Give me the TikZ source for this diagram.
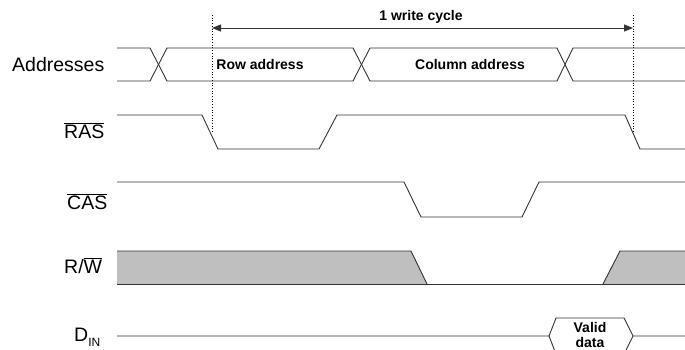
\documentclass[tikz,border=0pt]{standalone}
\usepackage{fontspec}
\setmainfont{Liberation Sans}
\usetikzlibrary{arrows.meta}
\begin{document}
\begin{tikzpicture}[x=1pt,y=-1pt,
  wave/.style={draw=black!80, line width=0.9pt, line join=miter},
  bus/.style={fill=black!25},
  sig/.style={font=\fontsize{19.5}{22}\selectfont, inner sep=0pt, anchor=base west},
  tag/.style={font=\fontsize{14}{15}\selectfont\bfseries, inner sep=0pt, anchor=base},
  marker/.style={draw=black, line width=0.7pt, dotted}]
\useasboundingbox (0,0) rectangle (685,349);
\clip (0,0) rectangle (685,349);
% signal labels
\node[sig] (laddr) at (12,71) {Addresses};
\node[sig] (lras) at (64,138) {$\overline{\mbox{RAS}}$};
\node[sig] (lcas) at (67,209) {$\overline{\mbox{CAS}}$};
\node[sig] (lrw) at (64,273) {R/$\overline{\mbox{W}}$};
\node[sig] (ldin) at (74,341) {D\raisebox{-5pt}{\fontsize{12}{12}\selectfont IN}};
% timing markers
\coordinate (m1t) at (212,15); \coordinate (m1b) at (212,133);
\coordinate (m2t) at (633,15); \coordinate (m2b) at (633,133);
\draw[marker] (m1t) -- (m1b);
\draw[marker] (m2t) -- (m2b);
\coordinate (a1) at (212,28); \coordinate (a2) at (633,28);
\draw[line width=0.9pt, draw=black!80, {Triangle[length=9pt,width=7pt]}-{Triangle[length=9pt,width=7pt]}] (a1) -- (a2);
\node[tag] (cyc) at (421,20) {1 write cycle};
% Addresses
\draw[wave] (117,48) -- (150,48) -- (167,81) -- (353,81) -- (370,48) -- (557,48) -- (573,81) -- (685,81);
\draw[wave] (117,81) -- (150,81) -- (167,48) -- (353,48) -- (370,81) -- (557,81) -- (573,48) -- (685,48);
\node[tag] (row) at (260,69) {Row address};
\node[tag] (col) at (470,69) {Column address};
% RAS
\draw[wave] (117,115) -- (202,115) -- (218,149) -- (319,149) -- (337,115) -- (625,115) -- (640,149) -- (685,149);
% CAS
\draw[wave] (117,182) -- (404,182) -- (421,217) -- (522,217) -- (539,182) -- (685,182);
% R/W
\fill[bus] (117,251) -- (411,251) -- (427,284) -- (117,284) -- cycle;
\fill[bus] (603,284) -- (620,251) -- (690,251) -- (690,284) -- cycle;
\draw[wave] (117,251) -- (411,251) -- (427,284);
\draw[wave] (603,284) -- (620,251) -- (685,251);
\draw[wave] (117,284) -- (685,284);
% D_IN
\draw[wave] (117,336) -- (549,336) -- (556,318) -- (624,318) -- (633,336) -- (685,336);
\draw[wave] (549,336) -- (556,354) -- (624,354) -- (633,336);
\node[tag] (v1) at (590,332) {Valid};
\node[tag] (v2) at (590,347) {data};
\end{tikzpicture}
\end{document}
